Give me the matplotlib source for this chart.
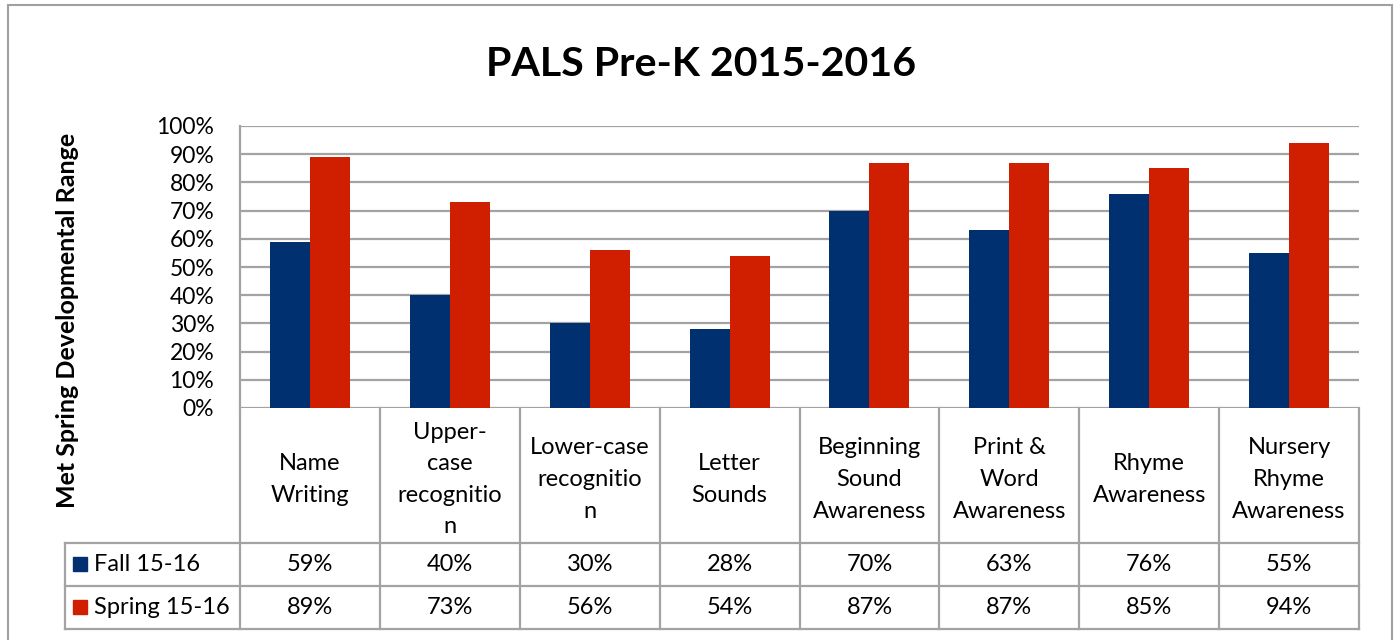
import matplotlib
matplotlib.use("Agg")
import matplotlib.pyplot as plt
from matplotlib.patches import Rectangle
import numpy as np

plt.rcParams['font.family'] = ['Lato', 'DejaVu Sans']

title = "PALS Pre-K 2015-2016"
ylabel = "Met Spring Developmental Range"
categories = ["Name\nWriting", "Upper-\ncase\nrecognitio\nn", "Lower-case\nrecognitio\nn",
              "Letter\nSounds", "Beginning\nSound\nAwareness", "Print &\nWord\nAwareness",
              "Rhyme\nAwareness", "Nursery\nRhyme\nAwareness"]
series_names = ["Fall 15-16", "Spring 15-16"]
fall = [59, 40, 30, 28, 70, 63, 76, 55]
spring = [89, 73, 56, 54, 87, 87, 85, 94]
yticks = [0, 10, 20, 30, 40, 50, 60, 70, 80, 90, 100]

BLUE = '#00306F'
RED = '#CF1F00'
GRID = '#A3A3A3'
W, H = 1400, 640

fig = plt.figure(figsize=(W / 100, H / 100), dpi=100)

def fx(px):
    return px / W

def fy(py):
    return 1 - py / H

# outer border
fig.patches.append(Rectangle((fx(7.5), fy(700)), fx(1392) - fx(7.5), fy(4.5) - fy(700),
                             transform=fig.transFigure, fill=False, edgecolor='#A0A0A0',
                             linewidth=1.5))

# bar axes
left, right, top, bottom = 240, 1359, 126, 408
ax = fig.add_axes([fx(left), fy(bottom), fx(right) - fx(left), fy(top) - fy(bottom)])
n = len(categories)
x = np.arange(n)
bw = 0.2857
ax.bar(x - bw / 2, fall, width=bw, color=BLUE, zorder=3)
ax.bar(x + bw / 2, spring, width=bw, color=RED, zorder=3)
ax.set_xlim(-0.5, n - 0.5)
ax.set_ylim(0, 100)
ax.set_yticks(yticks)
ax.set_yticklabels([f"{v}%" for v in yticks], fontsize=16.5, color='black')
ax.tick_params(axis='y', length=0, pad=18.5)
ax.set_xticks([])
ax.yaxis.grid(True, color=GRID, linewidth=1.6, zorder=0)
for s in ['top', 'right', 'bottom']:
    ax.spines[s].set_visible(False)
ax.spines['left'].set_color(GRID)
ax.spines['left'].set_linewidth(1.6)

# table axes
leg_left = 65
row_tops = [408, 543, 586, 629]
tx = fig.add_axes([fx(leg_left), fy(629), fx(right) - fx(leg_left), fy(408) - fy(629)])
unit = (right - left) / n
xl = -0.5 - (left - leg_left) / unit
tx.set_xlim(xl, n - 0.5)
tx.set_ylim(629, 408)
tx.axis('off')
lc = dict(color=GRID, linewidth=1.6, solid_capstyle='projecting', clip_on=False)
for b in np.arange(n + 1) - 0.5:
    tx.plot([b, b], [408, 629], **lc)
tx.plot([xl, xl], [543, 629], **lc)
for yy in row_tops[1:]:
    tx.plot([xl, n - 0.5], [yy, yy], **lc)

fs = 17
for i, c in enumerate(categories):
    tx.text(x[i], (408 + 543) / 2 + 4, c, ha='center', va='center', fontsize=fs,
            linespacing=1.62)
for r, (vals, name, col) in enumerate(zip([fall, spring], series_names, [BLUE, RED])):
    yc = (row_tops[r + 1] + row_tops[r + 2]) / 2
    for i, v in enumerate(vals):
        tx.text(x[i], yc, f"{v}%", ha='center', va='center', fontsize=fs)
    tx.add_patch(Rectangle((xl + 8 / unit, yc - 8), 14 / unit, 14, color=col))
    tx.text(xl + 29 / unit, yc, name, ha='left', va='center', fontsize=fs)

fig.text(fx(701), fy(64), title, ha='center', va='center', fontsize=29.6, fontweight='bold')
fig.text(fx(68), fy(320), ylabel, ha='center', va='center', rotation=90, fontsize=18,
         fontweight='bold')

fig.savefig("out.png", dpi=100)
